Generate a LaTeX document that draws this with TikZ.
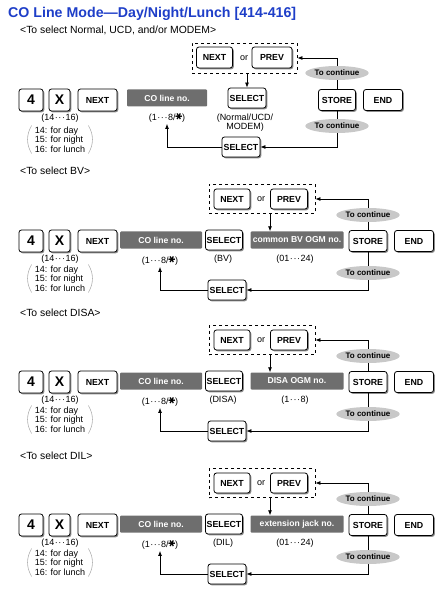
\documentclass[tikz,border=0pt]{standalone}
\usepackage{graphicx}
\usepackage{fontspec}
\setmainfont{Liberation Sans}
\newfontfamily\symfont{DejaVu Sans}
\usetikzlibrary{arrows.meta,positioning,calc,shapes.geometric,shadows}
\definecolor{ttl}{HTML}{1E3EC8}
\definecolor{gbox}{HTML}{6E6E6E}
\definecolor{gell}{HTML}{C8C8C8}
\newcommand{\starmark}{{\symfont\rotatebox{90}{\fontsize{9}{9}\selectfont ✱}}}
\newcommand{\dd}{\kern0.6pt·\kern0.6pt·\kern0.6pt·\kern0.6pt}
\tikzset{
  keybox/.style={draw, fill=white, line width=0.8pt, rounded corners=2.5pt, inner sep=0pt,
    minimum height=21pt, font=\fontsize{8.8}{9}\selectfont\bfseries,
    drop shadow={shadow xshift=1.3pt, shadow yshift=-1.3pt, fill=black!45, opacity=1}},
  bigkey/.style={keybox, minimum height=22pt, font=\fontsize{14}{15}\selectfont\bfseries},
  graybox/.style={fill=gbox, text=white, rounded corners=1pt, inner sep=0pt,
    minimum height=17pt, font=\fontsize{8.6}{9}\selectfont\bfseries},
  cont/.style={ellipse, fill=gell, inner sep=0pt, minimum width=53pt, minimum height=14pt,
    font=\fontsize{8}{8}\selectfont\bfseries},
  lbl/.style={inner sep=1pt, font=\fontsize{9}{9.5}\selectfont, align=center},
  sub/.style={anchor=base west, inner sep=0pt, font=\fontsize{10.4}{11}\selectfont},
  arr/.style={line width=0.8pt, -{Latex[length=5pt,width=4pt]}},
  dashbox/.style={draw, dashed, line width=0.8pt, inner sep=0pt},
  paren/.style={black!30, line width=0.6pt},
}

\begin{document}
\begin{tikzpicture}[x=1pt, y=-1pt]
 \useasboundingbox (0,0) rectangle (446,601);
 \node[anchor=base west, inner sep=0pt, text=ttl, font=\fontsize{14.2}{16}\selectfont\bfseries] (title) at (8,18) {CO Line Mode—Day/Night/Lunch [414-416]};
 % Normal, UCD, MODEM
 \node[sub] (sub) at (20,34) {<To select Normal, UCD, and/or MODEM>};
 \node[dashbox, minimum width=105pt, minimum height=30pt] (dash) at (244.5,58) {};
 \node[keybox, minimum width=36pt] (nx) at (214.5,57.5) {NEXT};
 \node[lbl] (or) at (244,58) {or};
 \node[keybox, minimum width=40pt] (pv) at (272,57.5) {PREV};
 \node[bigkey, minimum width=24pt] (k4) at (31,100) {4};
 \node[bigkey, minimum width=21pt] (kx) at (59.5,100) {X};
 \node[keybox, minimum width=39pt, minimum height=22pt] (nxt) at (97.5,100) {NEXT};
 \node[graybox, minimum width=80pt] (co) at (167,98) {CO line no.};
 \node[keybox, minimum width=38pt, minimum height=20pt] (sel) at (247,98) {SELECT};
 \node[keybox, minimum width=37pt] (store) at (337,100) {STORE};
 \node[keybox, minimum width=39pt] (end) at (383,100) {END};
 \node[lbl] (rg) at (60,118) {(14\dd16)};
 \node[lbl, align=left] (br) at (60,139.5) {14: for day\\15: for night\\16: for lunch};
 \node[lbl] (colbl) at (167,118) {(1\dd8/\starmark)};
 \node[lbl] (mode) at (245,122.5) {(Normal/UCD/\\MODEM)};
 \node[keybox, minimum width=38pt, minimum height=20pt] (sel2) at (241,147) {SELECT};
 \draw[arr] (dash.south -| sel) -- (sel.north);
 \draw[arr] (store.north) |- (dash.east);
 \draw[arr] (store.south) |- (sel2.east);
 \draw[arr] (sel2.west) -| (colbl.south);
 \node[cont] (c1) at (337,73) {To continue};
 \node[cont] (c2) at (337,126) {To continue};
 \draw[paren] ([xshift=-2pt]br.north west) to[bend right=30] ([xshift=-2pt]br.south west);
 \draw[paren] ([xshift=2pt]br.north east) to[bend left=30] ([xshift=2pt]br.south east);
 % BV, DISA, DIL
 \foreach \dy/\sname/\mtext/\stext/\mrng in {0/BV/{common BV OGM no.}/{(BV)}/{(01\dd24)},
   141/DISA/{DISA OGM no.}/{(DISA)}/{(1\dd8)}, 284/DIL/{extension jack no.}/{(DIL)}/{(01\dd24)}}{
  \begin{scope}[shift={(0,\dy)}]
   \node[sub] (sub) at (20,175) {<To select \sname>};
   \node[dashbox, minimum width=106pt, minimum height=29pt] (dash) at (262,199) {};
   \node[keybox, minimum width=36pt, minimum height=20pt] (nx) at (232,199) {NEXT};
   \node[lbl] (or) at (261,199) {or};
   \node[keybox, minimum width=37pt, minimum height=20pt] (pv) at (289,199) {PREV};
   \node[bigkey, minimum width=24pt] (k4) at (31,241) {4};
   \node[bigkey, minimum width=21pt] (kx) at (59.5,241) {X};
   \node[keybox, minimum width=39pt, minimum height=22pt] (nxt) at (97.5,241) {NEXT};
   \node[graybox, minimum width=82pt] (co) at (161,240) {CO line no.};
   \node[keybox, minimum width=37pt, minimum height=20pt] (sel) at (224,240) {SELECT};
   \node[graybox, minimum width=93pt] (mid) at (297,240) {\mtext};
   \node[keybox, minimum width=38pt] (store) at (368,241) {STORE};
   \node[keybox, minimum width=39pt] (end) at (414,241) {END};
   \node[lbl] (rg) at (60,259) {(14\dd16)};
   \node[lbl, align=left] (br) at (60,278.5) {14: for day\\15: for night\\16: for lunch};
   \node[lbl] (colbl) at (160,261) {(1\dd8/\starmark)};
   \node[lbl] (slbl) at (223,259) {\stext};
   \node[lbl] (mlbl) at (295,259) {\mrng};
   \node[keybox, minimum width=38pt, minimum height=20pt] (sel2) at (227,290) {SELECT};
   \draw[arr] ([xshift=8pt]dash.south) -- ([xshift=-27pt]mid.north);
   \draw[arr] (store.north) |- (dash.east);
   \draw[arr] (store.south) |- (sel2.east);
   \draw[arr] (sel2.west) -| (colbl.south);
   \node[cont] (c1) at (368,215) {To continue};
   \node[cont] (c2) at (368,273) {To continue};
   \draw[paren] ([xshift=-2pt]br.north west) to[bend right=30] ([xshift=-2pt]br.south west);
   \draw[paren] ([xshift=2pt]br.north east) to[bend left=30] ([xshift=2pt]br.south east);
  \end{scope}
 }
\end{tikzpicture}
\end{document}
